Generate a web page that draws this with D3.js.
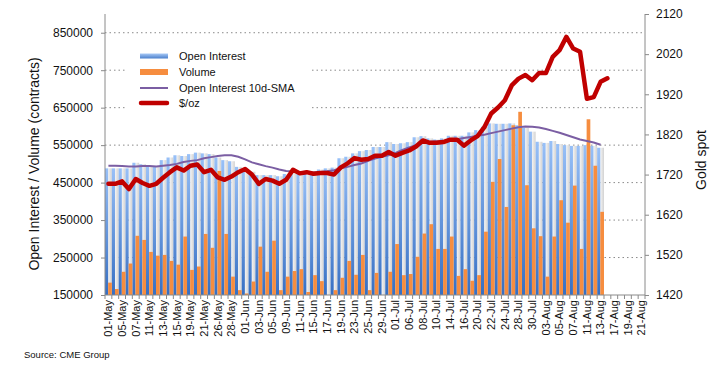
<!DOCTYPE html>
<html>
<head>
<meta charset="utf-8">
<script src="https://cdn.jsdelivr.net/npm/d3@7/dist/d3.min.js"></script>
<style>
	body { margin: 0; background: #fff; }
	text { font-family: "Liberation Sans", Arial, sans-serif; fill: #111; }
</style>
</head>
<body>
<div id="chart"></div>
<script>
// trading days on the x axis
var dates = [
	"01-May","04-May","05-May","06-May","07-May","08-May","11-May","12-May","13-May","14-May",
	"15-May","18-May","19-May","20-May","21-May","22-May","26-May","27-May","28-May","29-May",
	"01-Jun","02-Jun","03-Jun","04-Jun","05-Jun","08-Jun","09-Jun","10-Jun","11-Jun","12-Jun",
	"15-Jun","16-Jun","17-Jun","18-Jun","19-Jun","22-Jun","23-Jun","24-Jun","25-Jun","26-Jun",
	"29-Jun","30-Jun","01-Jul","02-Jul","06-Jul","07-Jul","08-Jul","09-Jul","10-Jul","13-Jul",
	"14-Jul","15-Jul","16-Jul","17-Jul","20-Jul","21-Jul","22-Jul","23-Jul","24-Jul","27-Jul",
	"28-Jul","29-Jul","30-Jul","31-Jul","03-Aug","04-Aug","05-Aug","06-Aug","07-Aug","10-Aug",
	"11-Aug","12-Aug","13-Aug","14-Aug","17-Aug","18-Aug","19-Aug","20-Aug","21-Aug"
];

// contracts
var openInterest = [
	488000,488000,488000,488000,503000,499000,492000,492000,510000,517000,
	523000,521000,526000,530000,528000,526000,517000,510000,507000,492000,
	483000,479000,470000,470000,470000,467000,473000,479000,477000,473000,
	473000,485000,488000,490000,515000,519000,528000,534000,537000,545000,
	545000,558000,553000,555000,558000,571000,574000,568000,565000,568000,
	575000,575000,575000,584000,590000,599000,608000,607000,607000,608000,
	603000,596000,586000,559000,556000,561000,553000,550000,548000,548000,
	550000,548000,543000
];

var volume = [
	183000,166000,212000,234000,308000,297000,265000,255000,257000,241000,
	231000,306000,217000,226000,313000,276000,481000,313000,199000,163000,
	154000,186000,279000,212000,295000,163000,199000,214000,219000,158000,
	203000,187000,150000,163000,196000,241000,204000,257000,163000,209000,
	150000,212000,286000,203000,206000,252000,314000,339000,273000,273000,
	306000,201000,219000,188000,203000,319000,452000,513000,385000,603000,
	639000,443000,328000,307000,199000,306000,403000,343000,442000,273000,
	619000,495000,372000
];

var oiSma = [
	495000,495000,494000,493000,493000,494000,494000,493000,495000,497000,
	500000,505000,508000,510000,515000,518000,521000,523000,523000,519000,
	512000,504000,499000,494000,490000,485000,481000,480000,478000,477000,
	477000,478000,480000,483000,488000,492000,497000,501000,508000,514000,
	519000,523000,529000,537000,544000,550000,556000,559000,560000,561000,
	563000,566000,569000,572000,575000,578000,582000,586000,590000,594000,
	598000,600000,599000,597000,593000,588000,583000,577000,571000,565000,
	561000,557000,551000
];

// $/oz
var goldPrice = [
	1697,1697,1703,1684,1709,1699,1692,1697,1712,1726,
	1738,1730,1742,1745,1726,1732,1713,1707,1715,1726,
	1734,1720,1697,1709,1705,1697,1707,1732,1723,1726,
	1722,1724,1724,1720,1738,1748,1761,1757,1759,1767,
	1767,1776,1767,1774,1780,1790,1805,1799,1799,1801,
	1807,1807,1792,1805,1816,1838,1872,1887,1905,1942,
	1959,1968,1955,1973,1973,2013,2030,2063,2034,2026,
	1909,1913,1951,1960
];

var oiTicks = [150000,250000,350000,450000,550000,650000,750000,850000];
var goldTicks = [1420,1520,1620,1720,1820,1920,2020,2120];

var W = 723, H = 371;
var plot = { left: 105, right: 645, top: 14, bottom: 295 };

var svg = d3.select("#chart").append("svg")
	.attr("width", W)
	.attr("height", H);

var x = d3.scaleBand()
	.domain(dates)
	.range([plot.left, plot.right])
	.padding(0);

var yL = d3.scaleLinear()
	.domain([150000, 900000])
	.range([plot.bottom, plot.top]);

var yR = d3.scaleLinear()
	.domain([1420, 2120])
	.range([plot.bottom, plot.top]);

var bw = x.bandwidth();

// gradients
var defs = svg.append("defs");
var gBlue = defs.append("linearGradient").attr("id", "blueGrad")
	.attr("x1", 0).attr("y1", 0).attr("x2", 0).attr("y2", 1);
gBlue.append("stop").attr("offset", "0%").attr("stop-color", "#98c0f7");
gBlue.append("stop").attr("offset", "100%").attr("stop-color", "#366fc3");

var gGrey = defs.append("linearGradient").attr("id", "greyGrad")
	.attr("x1", 0).attr("y1", 0).attr("x2", 1).attr("y2", 0);
gGrey.append("stop").attr("offset", "0%").attr("stop-color", "#f4f4f4");
gGrey.append("stop").attr("offset", "100%").attr("stop-color", "#d2d2d2");

var gLeg = defs.append("linearGradient").attr("id", "legGrad")
	.attr("x1", 0).attr("y1", 0).attr("x2", 0).attr("y2", 1);
gLeg.append("stop").attr("offset", "0%").attr("stop-color", "#a8c9f6");
gLeg.append("stop").attr("offset", "100%").attr("stop-color", "#4a7fcc");

// gridlines
svg.append("g")
	.selectAll("line")
	.data(oiTicks.slice(1))
	.enter()
	.append("line")
	.attr("x1", plot.left)
	.attr("x2", plot.right)
	.attr("y1", d => yL(d))
	.attr("y2", d => yL(d))
	.attr("stroke", "#8a8a8a")
	.attr("stroke-width", 1)
	.attr("stroke-dasharray", "1.5,3");

// bars
var bars = svg.append("g").attr("class", "bars");
var blueW = bw * 0.46;

bars.selectAll(".oiBack")
	.data(openInterest)
	.enter()
	.append("rect")
	.attr("x", (d, i) => x(dates[i]) + blueW)
	.attr("width", bw - blueW)
	.attr("y", d => yL(d))
	.attr("height", d => yL(150000) - yL(d))
	.attr("fill", "url(#greyGrad)");

bars.selectAll(".oi")
	.data(openInterest)
	.enter()
	.append("rect")
	.attr("x", (d, i) => x(dates[i]))
	.attr("width", blueW)
	.attr("y", d => yL(d))
	.attr("height", d => yL(150000) - yL(d))
	.attr("fill", "url(#blueGrad)");

bars.selectAll(".vol")
	.data(volume)
	.enter()
	.append("rect")
	.attr("x", (d, i) => x(dates[i]) + blueW)
	.attr("width", bw - blueW)
	.attr("y", d => yL(d))
	.attr("height", d => yL(150000) - yL(d))
	.attr("fill", "#f68d3f");

// lines
var smaLine = d3.line()
	.x((d, i) => x(dates[i]) + bw / 2)
	.y(d => yL(d));

svg.append("path")
	.datum(oiSma)
	.attr("d", smaLine)
	.attr("fill", "none")
	.attr("stroke", "#7b5ea3")
	.attr("stroke-width", 2);

var goldLine = d3.line()
	.x((d, i) => x(dates[i]) + bw / 2)
	.y(d => yR(d));

svg.append("path")
	.datum(goldPrice)
	.attr("d", goldLine)
	.attr("fill", "none")
	.attr("stroke", "#c00000")
	.attr("stroke-width", 4.5)
	.attr("stroke-linejoin", "round")
	.attr("stroke-linecap", "round");

// axes
var leftAxis = svg.append("g")
	.attr("transform", `translate(${plot.left},0)`)
	.call(d3.axisLeft(yL).tickValues(oiTicks).tickFormat(d3.format("d")).tickSize(4).tickPadding(8));

var rightAxis = svg.append("g")
	.attr("transform", `translate(${plot.right},0)`)
	.call(d3.axisRight(yR).tickValues(goldTicks).tickFormat(d3.format("d")).tickSize(4).tickPadding(7));

[leftAxis, rightAxis].forEach(a => {
	a.select(".domain").remove();
	a.selectAll(".tick line").attr("stroke", "#8a8a8a");
	a.selectAll("text").style("font-size", "12px").attr("fill", "#111");
});

svg.append("line")
	.attr("x1", plot.left).attr("x2", plot.left)
	.attr("y1", plot.top).attr("y2", plot.bottom)
	.attr("stroke", "#8a8a8a");
svg.append("line")
	.attr("x1", plot.right).attr("x2", plot.right)
	.attr("y1", plot.top).attr("y2", plot.bottom)
	.attr("stroke", "#8a8a8a");

var bottomAxis = svg.append("g")
	.attr("transform", `translate(0,${plot.bottom})`)
	.call(d3.axisBottom(x).tickValues(dates.filter((d, i) => i % 2 === 0)).tickSize(0));

bottomAxis.select(".domain").attr("stroke", "#8a8a8a").attr("d", `M${plot.left},0H${plot.right}`);
bottomAxis.selectAll("text")
	.attr("transform", "rotate(-90)")
	.attr("text-anchor", "end")
	.attr("x", -5)
	.attr("y", 0)
	.attr("dy", "0.35em")
	.style("font-size", "11px")
	.attr("fill", "#111");

// category boundary ticks
svg.append("g")
	.selectAll("line")
	.data(dates.concat(["end"]))
	.enter()
	.append("line")
	.attr("x1", (d, i) => plot.left + i * bw)
	.attr("x2", (d, i) => plot.left + i * bw)
	.attr("y1", plot.bottom)
	.attr("y2", plot.bottom + 4)
	.attr("stroke", "#8a8a8a");

// axis titles
svg.append("text")
	.attr("transform", "translate(39,164) rotate(-90)")
	.attr("text-anchor", "middle")
	.style("font-size", "14px")
	.text("Open Interest / Volume (contracts)");

svg.append("text")
	.attr("transform", "translate(706,160) rotate(-90)")
	.attr("text-anchor", "middle")
	.style("font-size", "14px")
	.text("Gold spot");

svg.append("text")
	.attr("x", 24)
	.attr("y", 358)
	.style("font-size", "9.5px")
	.text("Source: CME Group");

// legend
var legend = svg.append("g");
legend.append("rect")
	.attr("x", 126).attr("y", 42)
	.attr("width", 185).attr("height", 72)
	.attr("fill", "#fff");

var legendItems = ["Open Interest", "Volume", "Open Interest 10d-SMA", "$/oz"];
var legendY = [56, 72, 88, 103];

legend.append("rect").attr("x", 140).attr("y", legendY[0] - 2.5).attr("width", 28).attr("height", 5).attr("fill", "url(#legGrad)");
legend.append("rect").attr("x", 140).attr("y", legendY[1] - 3).attr("width", 28).attr("height", 6).attr("fill", "#f68d3f");
legend.append("line").attr("x1", 140).attr("x2", 168).attr("y1", legendY[2]).attr("y2", legendY[2])
	.attr("stroke", "#7b5ea3").attr("stroke-width", 2);
legend.append("line").attr("x1", 141).attr("x2", 167).attr("y1", legendY[3]).attr("y2", legendY[3])
	.attr("stroke", "#c00000").attr("stroke-width", 4.5).attr("stroke-linecap", "round");

legend.selectAll(".legText")
	.data(legendItems)
	.enter()
	.append("text")
	.attr("x", 179)
	.attr("y", (d, i) => legendY[i])
	.attr("dy", "0.35em")
	.style("font-size", "11px")
	.text(d => d);
</script>
</body>
</html>
